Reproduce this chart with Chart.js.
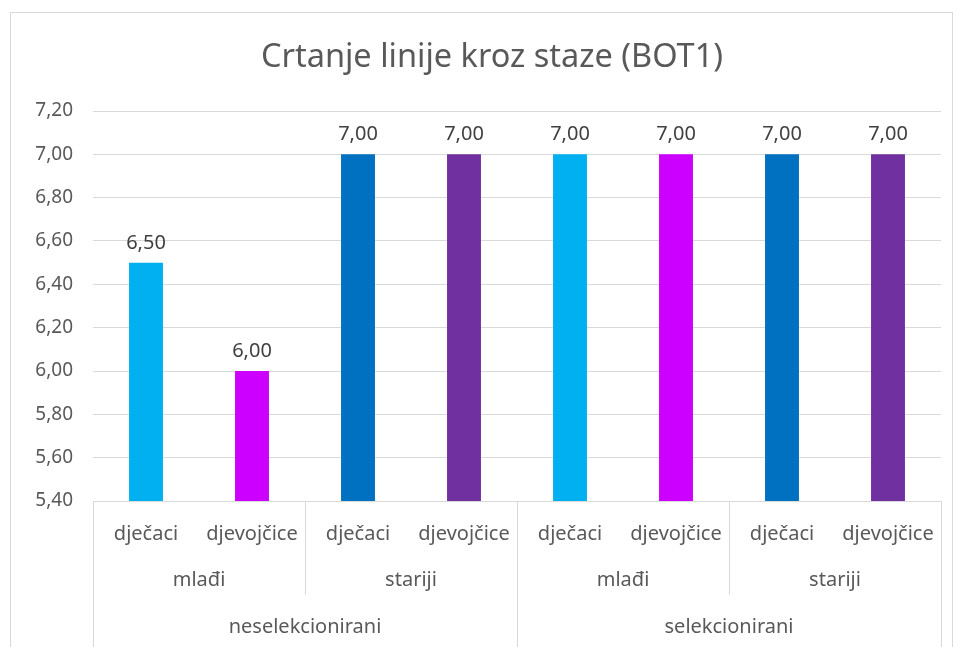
<!DOCTYPE html>
<html>
<head>
<meta charset="utf-8">
<script src="https://cdn.jsdelivr.net/npm/chart.js@4.4.0/dist/chart.umd.min.js"></script>
<style>
html,body{margin:0;padding:0;background:#fff;}
#wrap{position:absolute;left:0;top:0;width:957px;height:647px;}
</style>
</head>
<body>
<div id="wrap"><canvas id="c" width="957" height="647"></canvas></div>
<script>
const chartTitle = 'Crtanje linije kroz staze (BOT1)';
const topGroups = ['neselekcionirani', 'selekcionirani'];
const midGroups = ['mlađi', 'stariji', 'mlađi', 'stariji'];
const genders = ['dječaci', 'djevojčice', 'dječaci', 'djevojčice', 'dječaci', 'djevojčice', 'dječaci', 'djevojčice'];
const values = [6.5, 6.0, 7.0, 7.0, 7.0, 7.0, 7.0, 7.0];
const barColors = ['#00B0F0', '#CC00FF', '#0070C0', '#7030A0', '#00B0F0', '#CC00FF', '#0070C0', '#7030A0'];
const yMin = 5.4, yMax = 7.2, yStep = 0.2;

const FONT = '"Noto Sans", sans-serif';
const TXT = '#595959';
const LINE = '#d9d9d9';
const fmt = v => v.toFixed(2).replace('.', ',');

const labels = genders.map((g, i) => [g, midGroups[Math.floor(i / 2)], topGroups[Math.floor(i / 4)]].join(' | '));

const decor = {
  id: 'decor',
  beforeDraw(chart) {
    const ctx = chart.ctx;
    ctx.save();
    ctx.fillStyle = '#fff';
    ctx.fillRect(0, 0, chart.width, chart.height);
    ctx.strokeStyle = LINE;
    ctx.lineWidth = 1;
    ctx.strokeRect(10.5, 12.5, 942, 700);
    ctx.restore();
  },
  afterDraw(chart) {
    const ctx = chart.ctx;
    const x = chart.scales.x, y = chart.scales.y;
    const area = chart.chartArea;
    ctx.save();
    // title
    ctx.fillStyle = TXT;
    ctx.font = '32.5px ' + FONT;
    ctx.textAlign = 'center';
    ctx.textBaseline = 'middle';
    ctx.fillText(chartTitle, 492, 58);
    // value labels
    ctx.font = '20px ' + FONT;
    ctx.fillStyle = '#404040';
    ctx.textBaseline = 'alphabetic';
    const meta = chart.getDatasetMeta(0);
    meta.data.forEach((bar, i) => {
      ctx.fillText(fmt(values[i]), bar.x, bar.y - 14);
    });
    // category axis
    const n = genders.length;
    const half = (x.getPixelForValue(1) - x.getPixelForValue(0)) / 2;
    const left = area.left, right = area.right, bottom = area.bottom;
    ctx.strokeStyle = LINE;
    ctx.lineWidth = 1;
    ctx.beginPath();
    ctx.moveTo(left, Math.round(bottom) + 0.5);
    ctx.lineTo(right, Math.round(bottom) + 0.5);
    ctx.stroke();
    ctx.fillStyle = TXT;
    ctx.font = '20px ' + FONT;
    ctx.textBaseline = 'middle';
    genders.forEach((g, i) => ctx.fillText(g, x.getPixelForValue(i), bottom + 33));
    midGroups.forEach((m, j) => {
      const cx = (x.getPixelForValue(j * 2) + x.getPixelForValue(j * 2 + 1)) / 2;
      ctx.fillText(m, cx, bottom + 79);
    });
    topGroups.forEach((t, k) => {
      const cx = (x.getPixelForValue(k * 4) + x.getPixelForValue(k * 4 + 3)) / 2;
      ctx.fillText(t, cx, bottom + 126);
    });
    // separators
    for (let b = 0; b <= n; b += 2) {
      const px = Math.round(b < n ? x.getPixelForValue(b) - half : x.getPixelForValue(n - 1) + half) + 0.5;
      const full = (b % 4 === 0);
      ctx.beginPath();
      ctx.moveTo(px, bottom);
      ctx.lineTo(px, full ? chart.height : bottom + 94);
      ctx.stroke();
    }
    ctx.restore();
  }
};

new Chart(document.getElementById('c'), {
  type: 'bar',
  data: {
    labels: labels,
    datasets: [{
      data: values,
      backgroundColor: barColors,
      borderWidth: 0,
      categoryPercentage: 1,
      barPercentage: 0.32
    }]
  },
  options: {
    responsive: false,
    animation: false,
    layout: { padding: { left: 0, right: 16, top: 111, bottom: 146 } },
    plugins: { legend: { display: false }, title: { display: false }, tooltip: { enabled: false } },
    scales: {
      x: { display: false },
      y: {
        min: yMin, max: yMax,
        afterFit(scale) { scale.width = 93; },
        border: { display: false },
        grid: { color: LINE, drawTicks: false, lineWidth: 1 },
        ticks: {
          stepSize: yStep,
          padding: 20,
          color: TXT,
          font: { family: FONT, size: 19 },
          callback: v => fmt(v)
        }
      }
    }
  },
  plugins: [decor]
});
</script>
</body>
</html>
